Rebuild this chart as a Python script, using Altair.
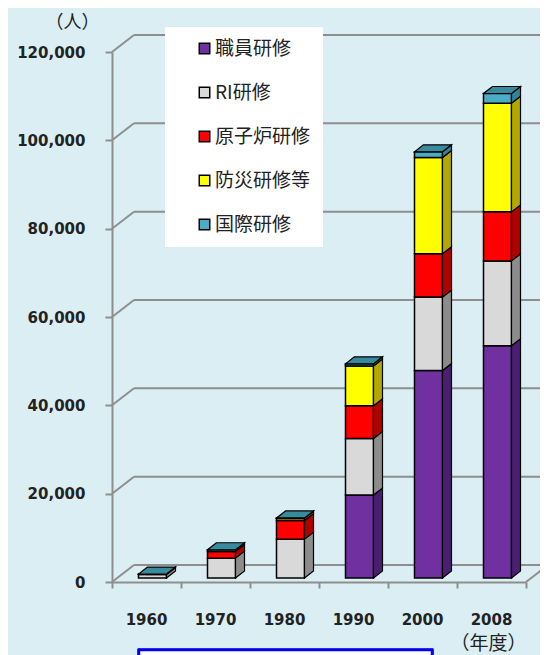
import altair as alt
import pandas as pd

# ---------------- data ----------------
years = ["1960", "1970", "1980", "1990", "2000", "2008"]
categories = ["職員研修", "RI研修", "原子炉研修", "防災研修等", "国際研修"]
staff = [0, 0, 0, 18800, 47000, 52600]
ri = [800, 4500, 8800, 12800, 16600, 19200]
reactor = [0, 1500, 4200, 7400, 9800, 11100]
disaster = [0, 0, 500, 9000, 21800, 24600]
intl = [100, 400, 100, 500, 1300, 2200]
y_ticks = [0, 20000, 40000, 60000, 80000, 100000, 120000]

# ---------------- style ----------------
front_colors = ["#7030a0", "#d9d9d9", "#ff0000", "#ffff00", "#4bacc6"]
side_colors = ["#4b1f6f", "#8c8c8c", "#b00000", "#b3a800", "#2f8499"]
top_colors = ["#5a2585", "#bfbfbf", "#d00000", "#d9d200", "#3a8a9e"]
BG = "#dbeef4"
GRID = "#8e8e8e"
CJK = "Noto Sans CJK JP"
NUMF = "DejaVu Sans"

W, H = 414, 530
N = len(years)
YMAX = 120000
HALF = 14 * N / W          # half bar width (x units)
DX = 9 * N / W             # 3D depth, horizontal (x units)
DY = 7 * YMAX / H          # 3D depth, vertical (y units)
WALL_DX, WALL_DY = 22, -17 # back wall offset (px)
BAR_DX, BAR_DY = 6, -4     # bars sit a little into the depth (px)

series = [staff, ri, reactor, disaster, intl]
front_rows, side_rows, top_rows = [], [], []
for i, yr in enumerate(years):
    c = i + 0.5
    cum = 0
    last_cat = None
    for j, cat in enumerate(categories):
        v = series[j][i]
        if v <= 0:
            continue
        lo, hi = cum, cum + v
        cum = hi
        last_cat = cat
        front_rows.append(dict(year=yr, cat=cat, xl=c - HALF, xr=c + HALF, lo=lo, hi=hi))
        sid = f"{yr}-{j}"
        side_rows.append(dict(sid=sid, cat=cat, x=c + HALF, lo=lo, hi=hi))
        side_rows.append(dict(sid=sid, cat=cat, x=c + HALF + DX, lo=lo + DY, hi=hi + DY))
    top_rows.append(dict(year=yr, cat=last_cat, y=cum, xl=c - HALF, xr=c + HALF))
    top_rows.append(dict(year=yr, cat=last_cat, y=cum + DY, xl=c - HALF + DX, xr=c + HALF + DX))

front_df = pd.DataFrame(front_rows)
side_df = pd.DataFrame(side_rows)
top_df = pd.DataFrame(top_rows)
grid_df = pd.DataFrame({"v": y_ticks, "x0": 0.0, "x1": N + 0.4})
label_df = pd.DataFrame({"year": years, "c": [i + 0.5 for i in range(N)], "y0": 0})
floor_df = pd.DataFrame({"x": [float(N)], "v": [0]})

xs = alt.Scale(domain=[0, N], nice=False, zero=False)
ys = alt.Scale(domain=[0, YMAX], nice=False)

x_axis = alt.Axis(values=list(range(N + 1)), labels=False, tickSize=6, tickWidth=2,
                  tickColor=GRID, domainColor=GRID, domainWidth=2, grid=False,
                  title="（年度）", titleX=376, titleY=61, titleAngle=0,
                  titleFont=CJK, titleFontSize=19, titleFontWeight="normal",
                  titleColor="#222222", titleAlign="center", titleBaseline="middle")
y_axis = alt.Axis(values=y_ticks, format=",d", tickSize=7, tickWidth=2, tickColor=GRID,
                  domainColor=GRID, domainWidth=2, grid=False,
                  labelFont=NUMF, labelFontSize=15, labelFontWeight="bold",
                  labelColor="#222222", labelPadding=20,
                  title="（人）", titleX=-40, titleY=-30, titleAngle=0,
                  titleFont=CJK, titleFontSize=18, titleFontWeight="normal",
                  titleColor="#222222", titleAlign="center", titleBaseline="middle")


def X(f):
    return alt.X(f, type="quantitative", scale=xs, axis=x_axis)


def Y(f):
    return alt.Y(f, type="quantitative", scale=ys, axis=y_axis)


back_lines = alt.Chart(grid_df).mark_rule(
    color=GRID, strokeWidth=2, xOffset=WALL_DX, x2Offset=WALL_DX, yOffset=WALL_DY
).encode(x=X("x0"), x2="x1", y=Y("v"))

diagonals = alt.Chart(grid_df).mark_rule(
    color=GRID, strokeWidth=2, x2Offset=WALL_DX, y2Offset=WALL_DY
).encode(x=X("x0"), x2="x0", y=Y("v"), y2="v")

floor_diag = alt.Chart(floor_df).mark_rule(
    color=GRID, strokeWidth=2, x2Offset=WALL_DX, y2Offset=WALL_DY
).encode(x=X("x"), x2="x", y=Y("v"), y2="v")

front = alt.Chart(front_df).mark_rect(
    stroke="black", strokeWidth=1.5,
    xOffset=BAR_DX, x2Offset=BAR_DX, yOffset=BAR_DY, y2Offset=BAR_DY
).encode(
    x=X("xl"), x2="xr", y=Y("hi"), y2="lo",
    fill=alt.Fill("cat:N", scale=alt.Scale(domain=categories, range=front_colors),
                  sort=categories,
                  legend=alt.Legend(
                      title=None, orient="none", legendX=53, legendY=-25,
                      fillColor="white", padding=12, symbolType="square",
                      symbolSize=110, symbolStrokeColor="black", symbolStrokeWidth=1.5,
                      symbolOffset=18, labelOffset=1, rowPadding=24,
                      labelFont=CJK, labelFontSize=19, labelColor="#222222",
                      labelExpr="datum.label + '    '",
                  )),
)

side = alt.Chart(side_df).mark_area(
    orient="vertical", stroke="black", strokeWidth=1.2,
    xOffset=BAR_DX, yOffset=BAR_DY, y2Offset=BAR_DY
).encode(
    x=X("x"), y=Y("hi"), y2="lo", detail="sid:N",
    fill=alt.Fill("cat:N", scale=alt.Scale(domain=categories, range=side_colors), legend=None),
)

top = alt.Chart(top_df).mark_area(
    orient="horizontal", stroke="black", strokeWidth=1.2,
    xOffset=BAR_DX, x2Offset=BAR_DX, yOffset=BAR_DY
).encode(
    y=Y("y"), x=X("xl"), x2="xr", detail="year:N",
    fill=alt.Fill("cat:N", scale=alt.Scale(domain=categories, range=top_colors), legend=None),
)

labels = alt.Chart(label_df).mark_text(
    dy=38, font=NUMF, fontSize=15, fontWeight="bold", color="#222222", baseline="middle"
).encode(x=X("c"), y=Y("y0"), text="year:N")

# caption frame cut off at the bottom edge of the figure
caption_box = alt.Chart(label_df).mark_rect(
    fill="white", stroke="#0000ee", strokeWidth=2.5
).encode(x=alt.value(27), x2=alt.value(320), y=alt.value(598), y2=alt.value(680))

chart = alt.layer(back_lines, diagonals, floor_diag, front, side, top, labels,
                  caption_box).resolve_scale(
    fill="independent"
).properties(
    width=W, height=H,
    autosize=alt.AutoSizeParams(type="none"),
    padding={"left": 104, "top": 44, "right": 14, "bottom": 73},
    background=BG,
).configure_view(stroke=None)

chart.save("out.html", embed_options={"renderer": "svg", "actions": False})
